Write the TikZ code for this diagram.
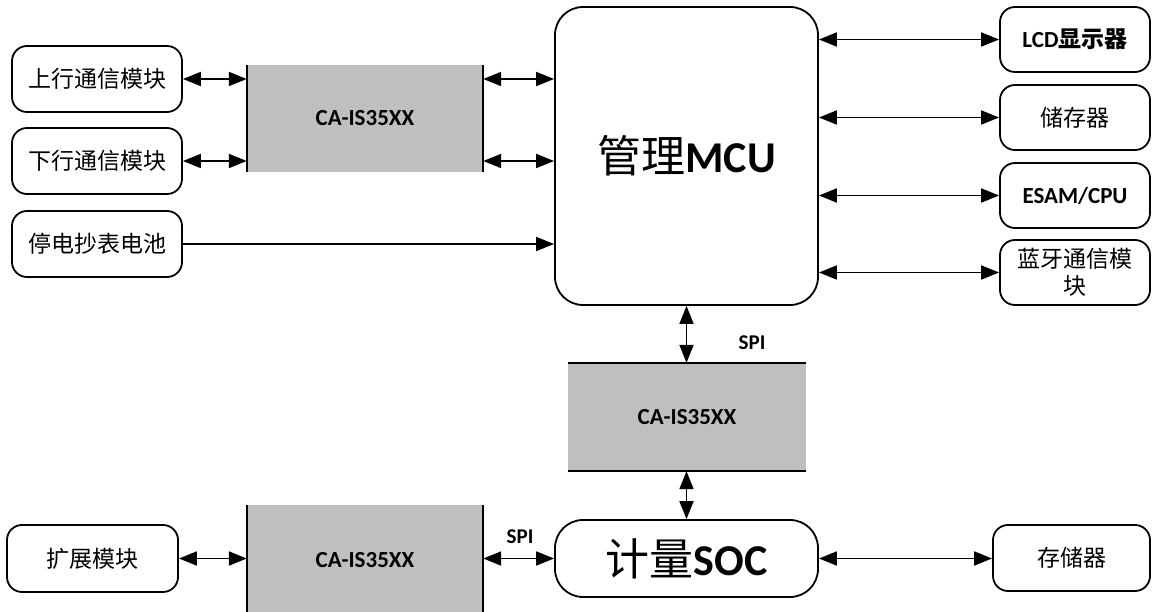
\documentclass[tikz,border=0pt]{standalone}
\usepackage{fontspec}
\setmainfont{Carlito}
\newfontfamily\cjk{Noto Sans CJK SC}
\usetikzlibrary{arrows.meta}
\begin{document}
\begin{tikzpicture}[x=1pt,y=-1pt,
  rbox/.style={draw=black, line width=1.8pt, rounded corners=15pt, align=center, inner sep=0pt},
  small/.style={rbox, minimum width=170pt, minimum height=66pt, font=\fontsize{23}{26}\selectfont},
  big/.style={rbox, rounded corners=28pt, minimum width=263pt, font=\fontsize{44}{50}\selectfont},
  iso/.style={fill=gray!50!white, minimum width=236pt, minimum height=107pt, inner sep=0pt, font=\bfseries\fontsize{23}{26}\selectfont},
  edge/.style={line width=2.2pt},
  biarrow/.style={line width=1.8pt, {Triangle[length=18pt,width=14pt]}-{Triangle[length=18pt,width=14pt]}},
  onearrow/.style={line width=1.8pt, -{Triangle[length=18pt,width=14pt]}},
  lbl/.style={font=\bfseries\fontsize{21}{24}\selectfont}
]
\useasboundingbox (0,0) rectangle (1152,612);

% left modules
\node[small] (up) at (97,79) {\cjk 上行通信模块};
\node[small] (down) at (97,161) {\cjk 下行通信模块};
\node[small] (batt) at (97,244) {\cjk 停电抄表电池};

% isolator 1
\node[iso] (iso1) at (365,118.5) {CA-IS35XX};
\draw[edge] (iso1.north west) -- (iso1.south west);
\draw[edge] (iso1.north east) -- (iso1.south east);

% MCU
\node[big, minimum height=298pt] (mcu) at (686.5,156) {{\cjk 管理}\textbf{MCU}};

% right modules
\node[small, minimum width=150pt, minimum height=65pt] (lcd) at (1075,39.5) {\textbf{LCD}{\cjk\bfseries 显示器}};
\node[small, minimum width=150pt, minimum height=65pt] (stor) at (1075,117.5) {\cjk 储存器};
\node[small, minimum width=150pt, minimum height=65pt] (esam) at (1075,195.5) {\textbf{ESAM/CPU}};
\node[small, minimum width=150pt, minimum height=65pt, text width=140pt, font=\fontsize{23}{27}\selectfont] (bt) at (1075,272.5) {\cjk 蓝牙通信模\\块};

% isolator 2
\node[iso, minimum width=238pt, minimum height=108pt] (iso2) at (687,417) {CA-IS35XX};
\draw[edge] (iso2.north west) -- (iso2.north east);
\draw[edge] (iso2.south west) -- (iso2.south east);

% SOC
\node[big, minimum height=77pt] (soc) at (686.5,558.5) {{\cjk 计量}\textbf{SOC}};

% bottom
\node[small, minimum width=171pt, minimum height=67pt] (ext) at (92.5,558.5) {\cjk 扩展模块};
\node[iso, minimum height=110pt] (iso3) at (365,560) {CA-IS35XX};
\draw[edge] (iso3.north west) -- (iso3.south west);
\draw[edge] (iso3.north east) -- (iso3.south east);
\node[small, minimum width=157pt, minimum height=66pt] (mem) at (1071.5,558) {\cjk 存储器};

% connectors
\draw[biarrow] (up.east) -- (up.east -| iso1.west);
\draw[biarrow] (down.east) -- (down.east -| iso1.west);
\draw[biarrow] (iso1.east |- up.east) -- (mcu.west |- up.east);
\draw[biarrow] (iso1.east |- down.east) -- (mcu.west |- down.east);
\draw[onearrow] (batt.east) -- (batt.east -| mcu.west);

\draw[biarrow] (mcu.east |- lcd.west) -- (lcd.west);
\draw[biarrow] (mcu.east |- stor.west) -- (stor.west);
\draw[biarrow] (mcu.east |- esam.west) -- (esam.west);
\draw[biarrow] (mcu.east |- bt.west) -- (bt.west);

\draw[biarrow] (mcu.south) -- (iso2.north -| mcu.south);
\draw[biarrow] (iso2.south -| soc.north) -- (soc.north);
\draw[biarrow] (soc.east) -- (soc.east -| mem.west);

\draw[biarrow] (ext.east) -- (ext.east -| iso3.west);
\draw[biarrow] (soc.west -| iso3.east) -- (soc.west);

\node[lbl] (spi1) at (752,343) {SPI};
\node[lbl] (spi2) at (520,537) {SPI};
\end{tikzpicture}
\end{document}
